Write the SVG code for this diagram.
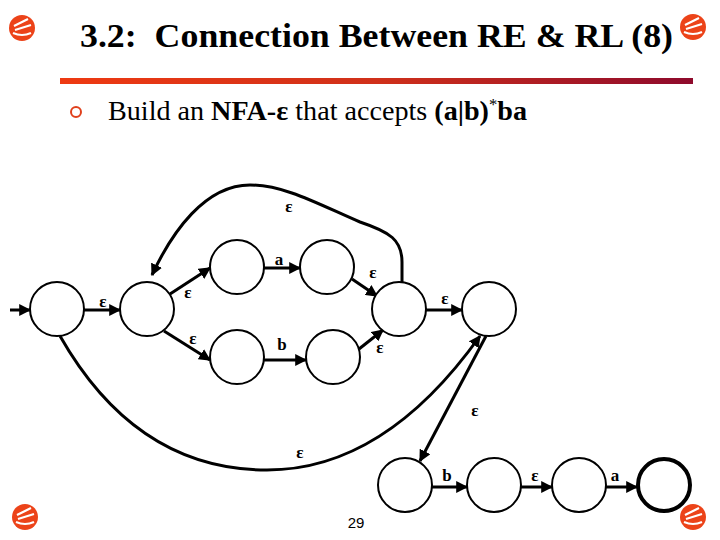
<svg xmlns="http://www.w3.org/2000/svg" width="720" height="540" viewBox="0 0 720 540">
<defs>
<linearGradient id="bar" x1="0" y1="0" x2="1" y2="0">
<stop offset="0" stop-color="#EE3A12"/>
<stop offset="0.5" stop-color="#D0301A"/>
<stop offset="1" stop-color="#8E0A2C"/>
</linearGradient>
<marker id="ah" viewBox="0 0 10 10" refX="9" refY="5" markerWidth="4" markerHeight="4" orient="auto" markerUnits="strokeWidth">
<path d="M0,0 L10,5 L0,10 z" fill="#000"/>
</marker>
<g id="icon">
<circle r="13" fill="#EC4319"/>
<path d="M-8,-2 L6,-9 M-7,2 L9,-3 M-9,5 Q0,9 9,5" stroke="#fff" stroke-width="2.2" fill="none"/>
</g>
</defs>
<style>
.st{fill:#fff;stroke:#000;stroke-width:2}
.fin{fill:#fff;stroke:#000;stroke-width:4}
.e{fill:none;stroke:#000;stroke-width:3;marker-end:url(#ah)}
.lb{font-family:"Liberation Serif",serif;font-size:17px;font-weight:bold;fill:#000;text-anchor:middle}
</style>
<rect width="720" height="540" fill="#fff"/>
<g id="decor">
<use href="#icon" x="22" y="28"/>
<use href="#icon" x="693" y="27"/>
<use href="#icon" x="25" y="517"/>
<use href="#icon" x="693" y="517"/>
<rect x="60" y="78" width="633" height="6" fill="url(#bar)"/>
<circle cx="76" cy="112" r="5" fill="none" stroke="#E0401C" stroke-width="2"/>
</g>
<text x="80" y="47" font-family="Liberation Serif, serif" font-size="34" font-weight="bold" fill="#000" xml:space="preserve" textLength="593" lengthAdjust="spacingAndGlyphs">3.2:  Connection Between RE &amp; RL (8)</text>
<text x="108" y="120" font-family="Liberation Serif, serif" font-size="27" fill="#000" textLength="419" lengthAdjust="spacingAndGlyphs">Build an <tspan font-weight="bold">NFA-ε</tspan> that accepts <tspan font-weight="bold">(a|b)</tspan><tspan font-size="16" dy="-10">*</tspan><tspan font-weight="bold" dy="10">ba</tspan></text>
<text x="356" y="528" font-family="Liberation Sans, sans-serif" font-size="15" fill="#000" text-anchor="middle">29</text>
<g id="connectors">
<line class="e" x1="10" y1="310" x2="30" y2="310"/>
<line class="e" x1="84" y1="310" x2="120" y2="310"/>
<line class="e" x1="170" y1="294" x2="210" y2="268"/>
<line class="e" x1="164" y1="331" x2="210" y2="360"/>
<line class="e" x1="264" y1="268" x2="300" y2="268"/>
<line class="e" x1="264" y1="360" x2="306" y2="360"/>
<line class="e" x1="352" y1="279" x2="377" y2="296"/>
<line class="e" x1="359" y1="349" x2="383" y2="330"/>
<line class="e" x1="426" y1="310" x2="462" y2="310"/>
<path class="e" d="M402,282 L402,262 C402,240 390,232 360,222 C320,205 285,185 250,185 C205,185 172,232 152,275"/>
<path class="e" d="M60,336 C105,415 170,470 267,470 C350,470 420,420 480,336"/>
<line class="e" x1="486" y1="336" x2="420" y2="461"/>
<line class="e" x1="432" y1="487" x2="467" y2="487"/>
<line class="e" x1="521" y1="487" x2="552" y2="487"/>
<line class="e" x1="606" y1="487" x2="637" y2="487"/>
<text class="lb" x="103" y="307">ε</text>
<text class="lb" x="188" y="298">ε</text>
<text class="lb" x="193" y="344">ε</text>
<text class="lb" x="279" y="265">a</text>
<text class="lb" x="282" y="350">b</text>
<text class="lb" x="373" y="278">ε</text>
<text class="lb" x="380" y="353">ε</text>
<text class="lb" x="445" y="304">ε</text>
<text class="lb" x="289" y="212">ε</text>
<text class="lb" x="300" y="458">ε</text>
<text class="lb" x="475" y="416">ε</text>
<text class="lb" x="447" y="481">b</text>
<text class="lb" x="535" y="481">ε</text>
<text class="lb" x="615" y="481">a</text>
</g>
<g id="q0"><circle class="st" cx="57" cy="309" r="27"/></g>
<g id="q1"><circle class="st" cx="147" cy="309" r="27"/></g>
<g id="q2"><circle class="st" cx="237" cy="267" r="27"/></g>
<g id="q3"><circle class="st" cx="327" cy="267" r="27"/></g>
<g id="q4"><circle class="st" cx="237" cy="357" r="27"/></g>
<g id="q5"><circle class="st" cx="333" cy="357" r="27"/></g>
<g id="q6"><circle class="st" cx="399" cy="309" r="27"/></g>
<g id="q7"><circle class="st" cx="489" cy="309" r="27"/></g>
<g id="q8"><circle class="st" cx="405" cy="485" r="27"/></g>
<g id="q9"><circle class="st" cx="494" cy="485" r="27"/></g>
<g id="q10"><circle class="st" cx="579" cy="485" r="27"/></g>
<g id="q11"><circle class="fin" cx="664" cy="485" r="26"/></g>
</svg>
